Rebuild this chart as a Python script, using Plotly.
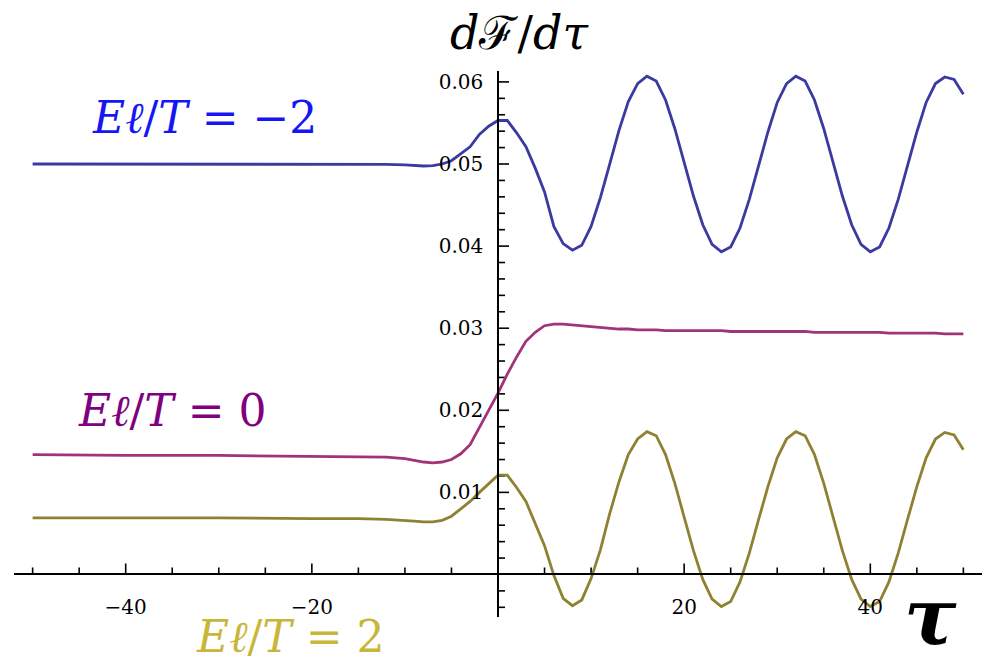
import plotly.graph_objects as go

# tau samples: coarse on the flat left part, unit steps through the transition and oscillation
tau = [-50, -40, -30, -20, -15, -12, -10, -9, -8, -7, -6, -5, -4, -3, -2, -1] + list(range(0, 51))

# dF/dtau for E l / T = -2
rate_m2 = [
    0.0500, 0.0500, 0.0500, 0.04995, 0.04995, 0.04995, 0.0499, 0.0498,
    0.04976, 0.0498, 0.0500, 0.0504, 0.0512, 0.0521, 0.0536, 0.0546,
    0.0553, 0.0553, 0.0538, 0.0521, 0.0495, 0.0466, 0.0424, 0.0403, 0.0395, 0.0401,
    0.0424, 0.0459, 0.0500, 0.0541, 0.0576, 0.0598, 0.0607, 0.0601, 0.0578, 0.0543,
    0.0502, 0.0461, 0.0426, 0.0402, 0.0393, 0.0399, 0.0422, 0.0457, 0.0498, 0.0539,
    0.0575, 0.0598, 0.0607, 0.0601, 0.0578, 0.0543, 0.0502, 0.0461, 0.0426, 0.0402,
    0.0393, 0.0399, 0.0422, 0.0457, 0.0498, 0.0539, 0.0575, 0.0598, 0.0606, 0.0603,
    0.0585,
]

# dF/dtau for E l / T = 0
rate_0 = [
    0.0146, 0.0145, 0.0145, 0.0144, 0.0144, 0.0143, 0.0141, 0.0139,
    0.0137, 0.0136, 0.0137, 0.0140, 0.0147, 0.0158, 0.0179, 0.0200,
    0.0221, 0.0244, 0.0265, 0.0284, 0.0295, 0.0303, 0.0305, 0.0305, 0.0304, 0.0303,
    0.0302, 0.0301, 0.0300, 0.0299, 0.0299, 0.0298, 0.0298, 0.0298, 0.0297, 0.0297,
    0.0297, 0.0297, 0.0297, 0.0297, 0.0297, 0.0296, 0.0296, 0.0296, 0.0296, 0.0296,
    0.0296, 0.0296, 0.0296, 0.0296, 0.0295, 0.0295, 0.0295, 0.0295, 0.0295, 0.0295,
    0.0295, 0.0295, 0.0294, 0.0294, 0.0294, 0.0294, 0.0294, 0.0294, 0.0293, 0.0293,
    0.0293,
]

# dF/dtau for E l / T = 2
rate_p2 = [
    0.0069, 0.0069, 0.0069, 0.0068, 0.0068, 0.0067, 0.0066, 0.0065,
    0.0064, 0.0064, 0.0066, 0.0071, 0.0080, 0.0089, 0.0100, 0.0111,
    0.0121, 0.0121, 0.0106, 0.0089, 0.0063, 0.0035, -0.0001, -0.0029, -0.0038, -0.0031,
    -0.0005, 0.0030, 0.0074, 0.0113, 0.0146, 0.0165, 0.0174, 0.0169, 0.0146, 0.0111,
    0.0070, 0.0029, -0.0006, -0.0030, -0.0039, -0.0033, -0.0009, 0.0026, 0.0067, 0.0107,
    0.0142, 0.0165, 0.0174, 0.0169, 0.0146, 0.0111, 0.0070, 0.0029, -0.0006, -0.0030,
    -0.0039, -0.0033, -0.0009, 0.0026, 0.0067, 0.0107, 0.0142, 0.0165, 0.0173, 0.0170,
    0.0152,
]

x_tick_vals = [-40, -20, 20, 40]
x_tick_text = ["\u221240", "\u221220", "20", "40"]
y_tick_vals = [0.01, 0.02, 0.03, 0.04, 0.05, 0.06]
y_tick_text = ["0.01", "0.02", "0.03", "0.04", "0.05", "0.06"]

W, H = 988, 665
FONT = "DejaVu Serif"

x_range = [-52.0, 52.0]
x_dom = [14 / W, 982 / W]
y_range = [-0.00518, 0.06133]
y_dom = [(H - 617) / H, (H - 71) / H]

# pixels per data unit along each axis
px_per_x = (x_dom[1] - x_dom[0]) * W / (x_range[1] - x_range[0])
px_per_y = (y_dom[1] - y_dom[0]) * H / (y_range[1] - y_range[0])

# paper positions where the axes cross the origin
x_axis_pos = y_dom[0] + (0 - y_range[0]) / (y_range[1] - y_range[0]) * (y_dom[1] - y_dom[0])
y_axis_pos = x_dom[0] + (0 - x_range[0]) / (x_range[1] - x_range[0]) * (x_dom[1] - x_dom[0])

series = [
    (rate_m2, "rgb(58,58,160)"),
    (rate_0, "rgb(160,52,122)"),
    (rate_p2, "rgb(142,130,50)"),
]

fig = go.Figure()

# Tick marks on the axes through the origin: major 11 px, minor 7 px, pointing inward
tx, ty = [], []
for v in range(-50, 55, 5):
    if v == 0:
        continue
    n = 11 if v in x_tick_vals else 7
    tx += [v, v, None]
    ty += [0, n / px_per_y, None]
for i in range(-2, 31):
    if i == 0:
        continue
    v = round(i * 0.002, 4)
    n = 11 if i % 5 == 0 else 7
    tx += [0, n / px_per_x, None]
    ty += [v, v, None]
fig.add_trace(go.Scatter(x=tx, y=ty, mode="lines", line=dict(color="black", width=1.6),
                         hoverinfo="skip", showlegend=False))

for vals, col in series:
    fig.add_trace(go.Scatter(x=tau, y=vals, mode="lines",
                             line=dict(color=col, width=2.8),
                             hoverinfo="skip", showlegend=False))

fig.update_layout(
    width=W, height=H, autosize=False,
    margin=dict(l=0, r=0, t=0, b=0),
    paper_bgcolor="white", plot_bgcolor="white",
    showlegend=False,
    xaxis=dict(
        range=x_range, domain=x_dom, anchor="free", position=x_axis_pos,
        showgrid=False, zeroline=False, showline=True,
        linecolor="black", linewidth=1.5,
        tickmode="array", tickvals=x_tick_vals, ticktext=x_tick_text,
        ticks="", ticklabelstandoff=15,
        tickfont=dict(family=FONT, size=20, color="black"),
    ),
    yaxis=dict(
        range=y_range, domain=y_dom, anchor="free", position=y_axis_pos,
        showgrid=False, zeroline=False, showline=True,
        linecolor="black", linewidth=1.5,
        tickmode="array", tickvals=y_tick_vals, ticktext=y_tick_text,
        ticks="", ticklabelstandoff=10,
        tickfont=dict(family=FONT, size=20, color="black"),
    ),
)


def label(text, px, py, color, size, xanchor="center"):
    fig.add_annotation(text=text, xref="paper", yref="paper",
                       x=px / W, y=1 - py / H, xanchor=xanchor, yanchor="middle",
                       showarrow=False,
                       font=dict(family=FONT, size=size, color=color))


label("<i>E</i><i>\u2113</i>/<i>T</i> = \u22122", 204, 117, "rgb(22,22,245)", 44)
label("<i>E</i><i>\u2113</i>/<i>T</i> = 0", 172, 411, "rgb(128,0,128)", 44)
label("<i>E</i><i>\u2113</i>/<i>T</i> = 2", 290, 636, "rgb(200,182,58)", 44)
label("<i>d</i>\u2131/<i>d\u03c4</i>", 519, 33, "black", 46)
label("<b><i>\u03c4</i></b>", 930, 616, "black", 78)

fig.write_html("out.html", config={"displayModeBar": False})
